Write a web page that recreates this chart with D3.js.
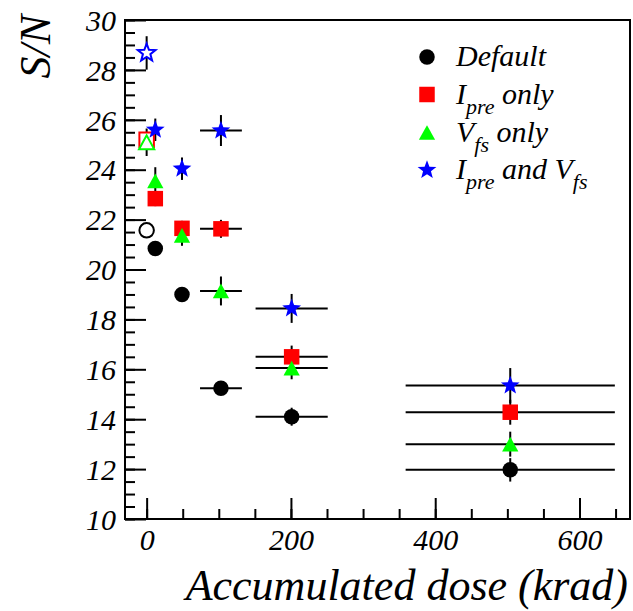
<!DOCTYPE html>
<meta charset="utf-8">
<style>
body { margin: 0; background: #fff; }
.chart text { font-family: "Liberation Serif", "Times New Roman", "DejaVu Serif", serif; font-style: italic; fill: #000; }
.axis path { display: none; }
.axis line { stroke: #000; stroke-width: 2; }
</style>
<svg class="chart"></svg>
<script src="https://d3js.org/d3.v7.min.js"></script>
<script>

// accumulated dose (krad) and its spread; first point of each series is drawn hollow
var dose    = [0, 12, 49, 103, 201, 504];
var doseErr = [0, 0, 0, 29, 50, 145];

var snDefault  = [21.57, 20.84, 19.0, 15.24, 14.1, 11.97];
var errDefault = [0.25, 0.25, 0.25, 0.25, 0.36, 0.47];
var snIpre     = [25.2, 22.84, 21.65, 21.63, 16.5, 14.28];
var errIpre    = [0.3, 0.3, 0.3, 0.36, 0.45, 0.5];
var snVfs      = [25.1, 23.55, 21.37, 19.14, 16.05, 13.0];
var errVfs     = [0.55, 0.55, 0.42, 0.58, 0.45, 0.5];
var snBoth     = [28.68, 25.6, 24.04, 25.57, 18.44, 15.35];
var errBoth    = [0.67, 0.45, 0.45, 0.62, 0.58, 0.7];

var xTicks = [0, 200, 400, 600];
var yTicks = [10, 12, 14, 16, 18, 20, 22, 24, 26, 28, 30];

var series = [
  {name: "Default", sub: null, rest: "", y: snDefault, e: errDefault, shape: "circle", color: "#000"},
  {name: "I", sub: "pre", rest: " only", y: snIpre, e: errIpre, shape: "square", color: "#ff0000"},
  {name: "V", sub: "fs", rest: " only", y: snVfs, e: errVfs, shape: "triangle", color: "#00ff00"},
  {name: "I", sub: "pre", rest: " and V", sub2: "fs", y: snBoth, e: errBoth, shape: "star", color: "#0000ff"}
];

var W = 633, H = 611;
var frame = {left: 125, right: 630, top: 20, bottom: 519};

var svg = d3.select(".chart").attr("width", W).attr("height", H);

var x = d3.scaleLinear().domain([-30, 670]).range([frame.left, frame.right]);
var y = d3.scaleLinear().domain([10, 30]).range([frame.bottom, frame.top]);

// minor ticks
svg.append("g")
  .attr("class", "axis")
  .attr("transform", "translate(" + frame.left + ",0)")
  .call(d3.axisLeft(y).tickValues(d3.range(10, 30.01, 0.5)).tickSize(-10).tickFormat(""));
svg.append("g")
  .attr("class", "axis")
  .attr("transform", "translate(0," + frame.bottom + ")")
  .call(d3.axisBottom(x).tickValues(d3.range(0, 651, 50)).tickSize(-10).tickFormat(""));

// major ticks with labels
var yAxis = svg.append("g")
  .attr("class", "axis")
  .attr("transform", "translate(" + frame.left + ",0)")
  .call(d3.axisLeft(y).tickValues(yTicks).tickSize(-21).tickPadding(9));
yAxis.selectAll("text").attr("font-size", 30).attr("dy", "0.34em");

var xAxis = svg.append("g")
  .attr("class", "axis")
  .attr("transform", "translate(0," + frame.bottom + ")")
  .call(d3.axisBottom(x).tickValues(xTicks).tickSize(-21).tickPadding(10));
xAxis.selectAll("text").attr("font-size", 30).attr("dy", "0.7em");

svg.append("rect")
  .attr("x", frame.left).attr("y", frame.top)
  .attr("width", frame.right - frame.left).attr("height", frame.bottom - frame.top)
  .attr("fill", "none").attr("stroke", "#000").attr("stroke-width", 2);

// axis titles
svg.append("text")
  .attr("transform", "translate(50,15) rotate(-90)")
  .attr("text-anchor", "end")
  .attr("font-size", 44)
  .text("S/N");

svg.append("text")
  .attr("x", 628).attr("y", 600)
  .attr("text-anchor", "end")
  .attr("font-size", 44)
  .text("Accumulated dose (krad)");

function markerPath(shape, size) {
  if (shape == "triangle") {
    var w = size * 1.05, h = size * 0.95;
    return "M0," + (-h / 2) + "L" + (w / 2) + "," + (h / 2) + "L" + (-w / 2) + "," + (h / 2) + "Z";
  }
  if (shape == "star") {
    var R = size * 0.58, r = R * 0.42, p = [];
    for (var k = 0; k < 10; k++) {
      var a = -Math.PI / 2 + k * Math.PI / 5, rr = k % 2 ? r : R;
      p.push([rr * Math.cos(a), rr * Math.sin(a)]);
    }
    return "M" + p.join("L") + "Z";
  }
  if (shape == "square") {
    var s = size / 2;
    return "M" + (-s) + "," + (-s) + "H" + s + "V" + s + "H" + (-s) + "Z";
  }
  return d3.symbol().type(d3.symbolCircle).size(Math.PI * size * size / 4)();
}

var plot = svg.append("g");

// error bars first
series.forEach(function(s) {
  var pts = dose.map(function(d, i) { return {x: d, ex: doseErr[i], y: s.y[i], ey: s.e[i], i: i}; });
  var g = plot.append("g").attr("stroke", "#000").attr("stroke-width", 2);
  g.selectAll(".ex").data(pts.filter(function(p) { return p.ex > 0; })).enter().append("line")
    .attr("x1", function(p) { return x(p.x - p.ex); })
    .attr("x2", function(p) { return x(p.x + p.ex); })
    .attr("y1", function(p) { return y(p.y); })
    .attr("y2", function(p) { return y(p.y); });
  g.selectAll(".ey").data(pts).enter().append("line")
    .attr("x1", function(p) { return x(p.x); })
    .attr("x2", function(p) { return x(p.x); })
    .attr("y1", function(p) { return y(p.y - p.ey); })
    .attr("y2", function(p) { return y(p.y + p.ey); });
});

// markers on top
series.forEach(function(s) {
  var size = s.shape == "star" ? 17 : 15.5;
  plot.append("g").selectAll("path")
    .data(dose.map(function(d, i) { return {x: d, y: s.y[i], open: i == 0}; }))
    .enter().append("path")
    .attr("transform", function(p) { return "translate(" + x(p.x) + "," + y(p.y) + ")"; })
    .attr("d", function(p) { return markerPath(s.shape, p.open ? size - 1 : size); })
    .attr("fill", function(p) { return p.open ? "#fff" : s.color; })
    .attr("stroke", function(p) { return p.open ? s.color : "none"; })
    .attr("stroke-width", 2);
});

// legend
var legend = svg.append("g");
var rowY = [57, 94.5, 132.5, 170];
series.forEach(function(s, i) {
  var row = legend.append("g").attr("transform", "translate(0," + rowY[i] + ")");
  row.append("path")
    .attr("transform", "translate(427,0)")
    .attr("d", markerPath(s.shape, s.shape == "star" ? 17 : 15.5))
    .attr("fill", s.color);
  var t = row.append("text").attr("x", 456).attr("y", 9).attr("font-size", 30);
  t.append("tspan").text(s.name);
  if (s.sub) {
    t.append("tspan").attr("font-size", 22).attr("dy", 10).text(s.sub);
    t.append("tspan").attr("dy", -10).text(s.rest);
  }
  if (s.sub2) {
    t.append("tspan").attr("font-size", 22).attr("dy", 10).text(s.sub2);
  }
});

</script>
